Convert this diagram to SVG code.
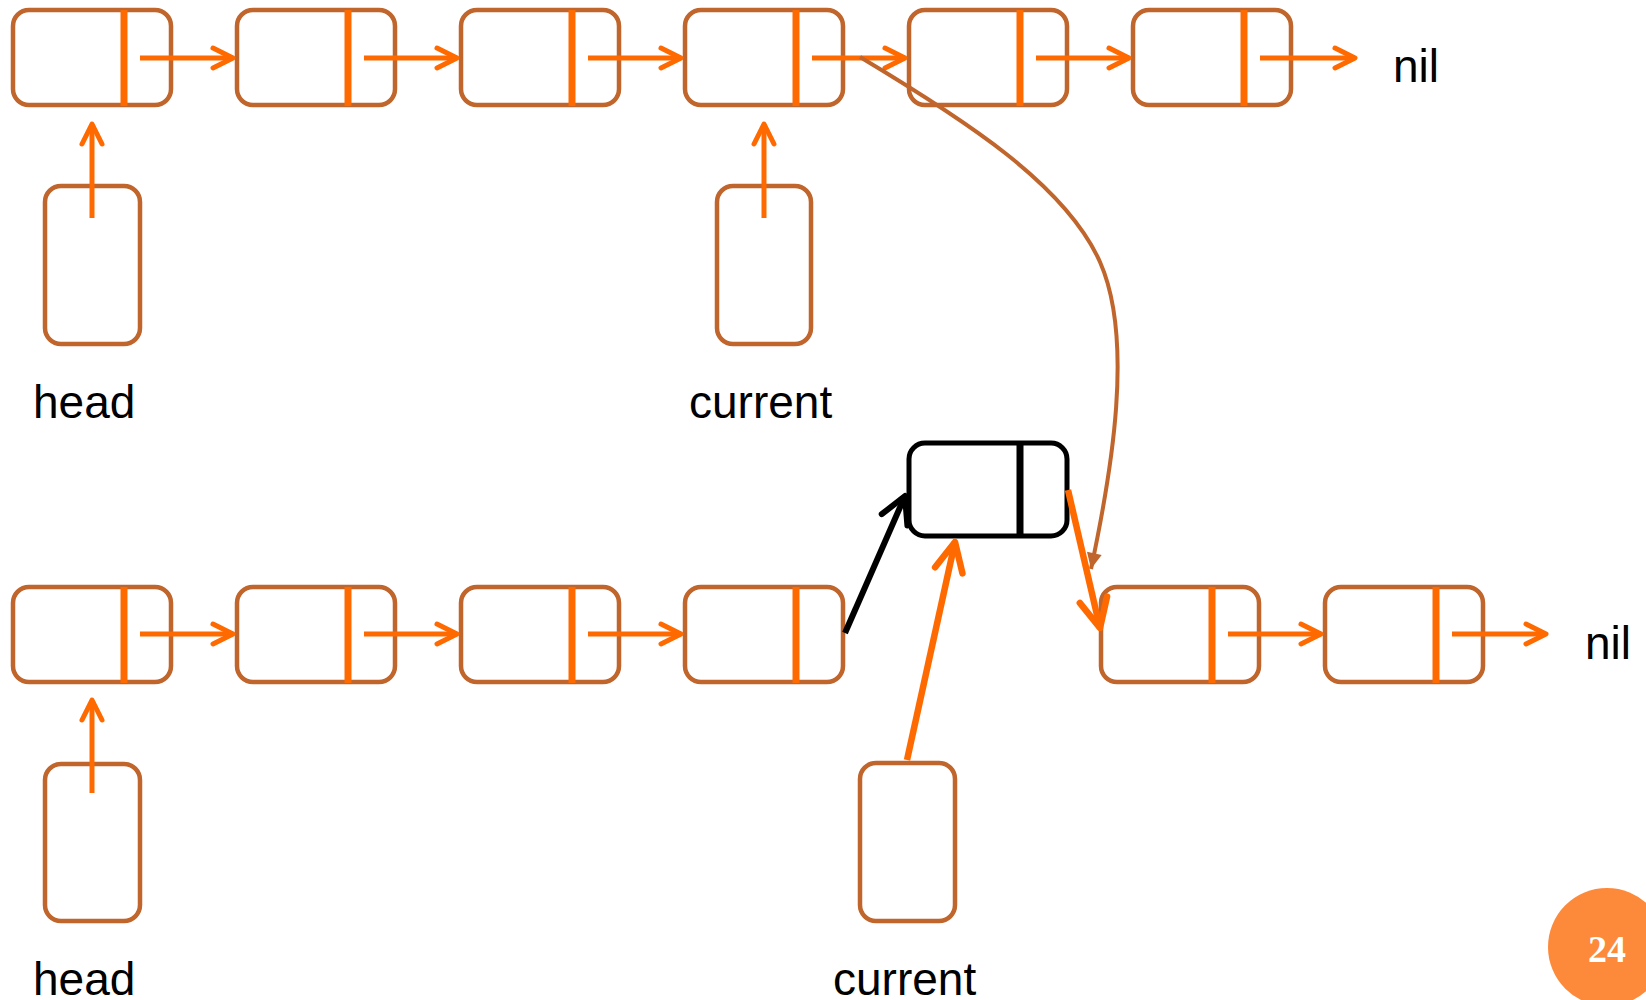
<svg xmlns="http://www.w3.org/2000/svg" width="1646" height="1000" viewBox="0 0 1646 1000">
<style>
.box{fill:#fff;stroke:#C0652B;stroke-width:4.5}
.bk{fill:#fff;stroke:#000;stroke-width:5}
.div{stroke:#FF6A00;stroke-width:7}
.divk{stroke:#000;stroke-width:7}
.ar{fill:none;stroke:#FF6A00;stroke-width:5}
.arL{fill:none;stroke:#FF6A00;stroke-width:6.5}
.t{font-family:"Liberation Sans",Arial,sans-serif;font-size:46px;fill:#000}
</style>
<defs>
<marker id="ah" markerUnits="userSpaceOnUse" markerWidth="40" markerHeight="40" viewBox="-30 -20 40 40" refX="0" refY="0" orient="auto" overflow="visible">
<path d="M-20,-10 L0,0 L-20,10" fill="none" stroke="#FF6A00" stroke-width="5" stroke-linecap="round" stroke-linejoin="round"/>
</marker>
<marker id="ahL" markerUnits="userSpaceOnUse" markerWidth="50" markerHeight="50" viewBox="-40 -25 50 50" refX="0" refY="0" orient="auto" overflow="visible">
<path d="M-29,-14 L0,0 L-29,14" fill="none" stroke="#FF6A00" stroke-width="6.5" stroke-linecap="round" stroke-linejoin="round"/>
</marker>
<marker id="ahK" markerUnits="userSpaceOnUse" markerWidth="50" markerHeight="50" viewBox="-40 -25 50 50" refX="0" refY="0" orient="auto" overflow="visible">
<path d="M-26,-14 L0,0 L-26,14" fill="none" stroke="#000" stroke-width="6" stroke-linecap="round" stroke-linejoin="round"/>
</marker>
<marker id="tri" markerUnits="userSpaceOnUse" markerWidth="30" markerHeight="30" viewBox="-20 -15 30 30" refX="0" refY="0" orient="auto" overflow="visible">
<path d="M-16,-7.5 L0,0 L-16,7.5 Z" fill="#C0652B"/>
</marker>
</defs>

<g id="top-n1"><rect class="box" x="13" y="10" width="158" height="95" rx="16"/><line class="div" x1="124" y1="10" x2="124" y2="106"/></g>
<g id="top-n2"><rect class="box" x="237" y="10" width="158" height="95" rx="16"/><line class="div" x1="348" y1="10" x2="348" y2="106"/></g>
<g id="top-n3"><rect class="box" x="461" y="10" width="158" height="95" rx="16"/><line class="div" x1="572" y1="10" x2="572" y2="106"/></g>
<g id="top-n4"><rect class="box" x="685" y="10" width="158" height="95" rx="16"/><line class="div" x1="796" y1="10" x2="796" y2="106"/></g>
<g id="top-n5"><rect class="box" x="909" y="10" width="158" height="95" rx="16"/><line class="div" x1="1020" y1="10" x2="1020" y2="106"/></g>
<g id="top-n6"><rect class="box" x="1133" y="10" width="158" height="95" rx="16"/><line class="div" x1="1244" y1="10" x2="1244" y2="106"/></g>
<g id="top-nil"><text class="t" x="1393" y="82">nil</text></g>
<g id="top-head"><rect class="box" x="45" y="186" width="95" height="158" rx="16"/><text class="t" x="33" y="418">head</text></g>
<g id="top-current"><rect class="box" x="717" y="186" width="94" height="158" rx="16"/><text class="t" x="689" y="418">current</text></g>

<g id="low-n1"><rect class="box" x="13" y="587" width="158" height="95" rx="16"/><line class="div" x1="124" y1="587" x2="124" y2="683"/></g>
<g id="low-n2"><rect class="box" x="237" y="587" width="158" height="95" rx="16"/><line class="div" x1="348" y1="587" x2="348" y2="683"/></g>
<g id="low-n3"><rect class="box" x="461" y="587" width="158" height="95" rx="16"/><line class="div" x1="572" y1="587" x2="572" y2="683"/></g>
<g id="low-n4"><rect class="box" x="685" y="587" width="158" height="95" rx="16"/><line class="div" x1="796" y1="587" x2="796" y2="683"/></g>
<g id="new-node"><rect class="bk" x="909" y="443" width="158" height="93" rx="16"/><line class="divk" x1="1020" y1="443" x2="1020" y2="537"/></g>
<g id="low-n5"><rect class="box" x="1101" y="587" width="158" height="95" rx="16"/><line class="div" x1="1212" y1="587" x2="1212" y2="683"/></g>
<g id="low-n6"><rect class="box" x="1325" y="587" width="158" height="95" rx="16"/><line class="div" x1="1436" y1="587" x2="1436" y2="683"/></g>
<g id="low-nil"><text class="t" x="1585" y="659">nil</text></g>
<g id="low-head"><rect class="box" x="45" y="764" width="95" height="157" rx="16"/><text class="t" x="33" y="995">head</text></g>
<g id="low-current"><rect class="box" x="860" y="763" width="95" height="158" rx="16"/><text class="t" x="833" y="995">current</text></g>

<g id="page"><circle cx="1607" cy="947" r="59" fill="#FD8A3A"/><text x="1607" y="962" text-anchor="middle" font-family="'Liberation Serif','DejaVu Serif',serif" font-weight="bold" font-size="38" fill="#fff">24</text></g>

<g id="connectors">
<line class="ar" x1="140" y1="58" x2="233" y2="58" marker-end="url(#ah)"/>
<line class="ar" x1="364" y1="58" x2="457" y2="58" marker-end="url(#ah)"/>
<line class="ar" x1="588" y1="58" x2="681" y2="58" marker-end="url(#ah)"/>
<line class="ar" x1="812" y1="58" x2="905" y2="58" marker-end="url(#ah)"/>
<line class="ar" x1="1036" y1="58" x2="1129" y2="58" marker-end="url(#ah)"/>
<line class="ar" x1="1260" y1="58" x2="1355" y2="58" marker-end="url(#ah)"/>
<line class="ar" x1="92" y1="218" x2="92" y2="124" marker-end="url(#ah)"/>
<line class="ar" x1="764" y1="218" x2="764" y2="124" marker-end="url(#ah)"/>
<path d="M860,57 C965,120 1066,185 1100,262 S1112,470 1091,569" fill="none" stroke="#C0652B" stroke-width="4" marker-end="url(#tri)"/>

<line class="ar" x1="140" y1="634" x2="233" y2="634" marker-end="url(#ah)"/>
<line class="ar" x1="364" y1="634" x2="457" y2="634" marker-end="url(#ah)"/>
<line class="ar" x1="588" y1="634" x2="681" y2="634" marker-end="url(#ah)"/>
<line class="ar" x1="1228" y1="634" x2="1321" y2="634" marker-end="url(#ah)"/>
<line class="ar" x1="1452" y1="634" x2="1546" y2="634" marker-end="url(#ah)"/>
<line class="ar" x1="92" y1="793" x2="92" y2="700" marker-end="url(#ah)"/>
<line x1="845" y1="633" x2="905" y2="496" stroke="#000" stroke-width="6" marker-end="url(#ahK)"/>
<line class="arL" x1="1068" y1="490" x2="1100" y2="628" marker-end="url(#ahL)"/>
<line class="arL" x1="907" y1="760" x2="955" y2="542" marker-end="url(#ahL)"/>
</g>
</svg>
